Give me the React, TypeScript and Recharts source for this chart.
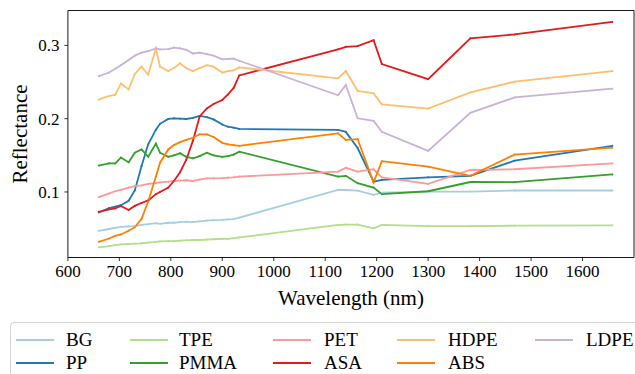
import { Line, LineChart, ReferenceArea, XAxis, YAxis } from "recharts";

const FONT = "'Liberation Serif', 'Times New Roman', serif";

const WAVELENGTHS = [
  660, 680, 692, 703, 718, 730, 743, 756, 771, 779, 795, 806, 818, 830, 843,
  856, 870, 883, 900, 911, 922, 933, 1125, 1140, 1163, 1194, 1210, 1300, 1382,
  1468, 1658,
];

const BG = [
  0.047, 0.0495, 0.051, 0.0525, 0.053, 0.0535, 0.055, 0.056, 0.0575, 0.0565,
  0.058, 0.058, 0.059, 0.0595, 0.059, 0.06, 0.061, 0.0615, 0.062, 0.0625,
  0.063, 0.065, 0.1027, 0.1027, 0.1018, 0.096, 0.099, 0.1004, 0.1005, 0.102,
  0.102,
];
const PP = [
  0.072, 0.078, 0.08, 0.082, 0.088, 0.102, 0.135, 0.165, 0.185, 0.193, 0.1996,
  0.2005, 0.2, 0.1996, 0.201, 0.2037, 0.202, 0.199, 0.192, 0.189, 0.1877,
  0.186, 0.1846, 0.182, 0.16, 0.114, 0.1164, 0.12, 0.122, 0.1427, 0.163,
];
const TPE = [
  0.0245, 0.026, 0.0275, 0.0285, 0.029, 0.0295, 0.03, 0.031, 0.032, 0.0325,
  0.033, 0.033, 0.0335, 0.034, 0.0345, 0.0345, 0.035, 0.0355, 0.036, 0.036,
  0.037, 0.038, 0.055, 0.0555, 0.0555, 0.0505, 0.055, 0.0535, 0.0535, 0.054,
  0.0545,
];
const PMMA = [
  0.136, 0.139, 0.139, 0.147, 0.1405, 0.1536, 0.158, 0.148, 0.166, 0.1536,
  0.148, 0.15, 0.153, 0.148, 0.146, 0.149, 0.1536, 0.15, 0.148, 0.149, 0.151,
  0.155, 0.121, 0.122, 0.112, 0.106, 0.097, 0.101, 0.1136, 0.1135, 0.124,
];
const PET = [
  0.093, 0.098, 0.101, 0.103, 0.106, 0.108, 0.109, 0.111, 0.112, 0.113, 0.114,
  0.115, 0.1155, 0.116, 0.115, 0.117, 0.1185, 0.1185, 0.119, 0.1195, 0.12,
  0.121, 0.1277, 0.133, 0.1277, 0.131, 0.12, 0.111, 0.13, 0.131, 0.139,
];
const ASA = [
  0.073, 0.0764, 0.0775, 0.081, 0.0754, 0.081, 0.085, 0.0885, 0.097, 0.1,
  0.106, 0.115, 0.127, 0.144, 0.17, 0.203, 0.214, 0.22, 0.2255, 0.233, 0.242,
  0.259, 0.2947, 0.298, 0.299, 0.307, 0.2746, 0.254, 0.3097, 0.315, 0.332,
];
const HDPE = [
  0.226, 0.231, 0.2325, 0.248, 0.24, 0.261, 0.271, 0.26, 0.296, 0.271, 0.265,
  0.269, 0.2755, 0.269, 0.265, 0.269, 0.273, 0.271, 0.263, 0.265, 0.266, 0.27,
  0.255, 0.265, 0.238, 0.2345, 0.2196, 0.2137, 0.236, 0.2505, 0.265,
];
const ABS = [
  0.032, 0.0365, 0.04, 0.042, 0.047, 0.052, 0.063, 0.087, 0.121, 0.14, 0.158,
  0.164, 0.168, 0.171, 0.174, 0.1787, 0.1787, 0.175, 0.167, 0.165, 0.164,
  0.163, 0.18, 0.171, 0.172, 0.113, 0.142, 0.1345, 0.122, 0.151, 0.1605,
];
const LDPE = [
  0.258, 0.263, 0.268, 0.273, 0.28, 0.286, 0.29, 0.292, 0.296, 0.2945, 0.295,
  0.297, 0.296, 0.294, 0.289, 0.29, 0.288, 0.286, 0.281, 0.2815, 0.282, 0.279,
  0.232, 0.246, 0.2005, 0.197, 0.182, 0.156, 0.208, 0.229, 0.241,
];

const SERIES = [
  { name: "BG", values: BG, color: "#a6cee3" },
  { name: "PP", values: PP, color: "#1f78b4" },
  { name: "TPE", values: TPE, color: "#b2df8a" },
  { name: "PMMA", values: PMMA, color: "#33a02c" },
  { name: "PET", values: PET, color: "#fb9a99" },
  { name: "ASA", values: ASA, color: "#e31a1c" },
  { name: "HDPE", values: HDPE, color: "#fdbf6f" },
  { name: "ABS", values: ABS, color: "#ff7f00" },
  { name: "LDPE", values: LDPE, color: "#cab2d6" },
];

const X_TICKS = [600, 700, 800, 900, 1000, 1100, 1200, 1300, 1400, 1500, 1600];
const Y_TICKS = [0.1, 0.2, 0.3];
const X_DOMAIN: [number, number] = [600, 1700];
const Y_DOMAIN: [number, number] = [0.0106, 0.3476];
const X_LABEL = "Wavelength (nm)";
const Y_LABEL = "Reflectance";

// legend: 5 columns, filled column by column like matplotlib
const LEGEND_COL_LINE = [5, 119, 262, 386, 524];
const LEGEND_COL_TEXT = [55, 168, 313, 437, 575];
const LEGEND_ROW_Y = [17, 40];

const rows = WAVELENGTHS.map((wl, i) => {
  const row: Record<string, number> = { wl };
  for (const s of SERIES) {
    row[s.name] = s.values[i];
  }
  return row;
});

const ChartLegend = function ChartLegend() {
  return (
    <div
      style={{
        position: "absolute",
        left: 10,
        top: 322,
        width: 640,
        height: 60,
        border: "1px solid #d4d4d4",
        borderRadius: 4,
        background: "#fff",
        fontFamily: FONT,
        fontSize: 19,
        color: "#000",
      }}
    >
      {SERIES.map((s, i) => {
        const col = Math.floor(i / 2);
        const r = i % 2;
        return (
          <div key={s.name}>
            <span
              style={{
                position: "absolute",
                left: LEGEND_COL_LINE[col],
                top: LEGEND_ROW_Y[r] - 1,
                width: 38,
                height: 2,
                background: s.color,
              }}
            />
            <span
              style={{
                position: "absolute",
                left: LEGEND_COL_TEXT[col],
                top: LEGEND_ROW_Y[r] - 11,
                lineHeight: "22px",
                whiteSpace: "nowrap",
              }}
            >
              {s.name}
            </span>
          </div>
        );
      })}
    </div>
  );
};

export default function App() {
  return (
    <div
      style={{
        position: "absolute",
        left: 0,
        top: 0,
        width: 635,
        height: 374,
        overflow: "hidden",
        background: "#fff",
      }}
    >
      <LineChart
        width={635}
        height={320}
        data={rows}
        margin={{ top: 10.5, right: 1, bottom: 0, left: 0 }}
      >
        <XAxis
          dataKey="wl"
          type="number"
          domain={X_DOMAIN}
          ticks={X_TICKS}
          allowDataOverflow
          height={62.5}
          axisLine={false}
          tickLine={{ stroke: "#000", strokeWidth: 0.8 }}
          tickSize={3.5}
          tickMargin={4}
          tick={{ fill: "#000", fontSize: 17, fontFamily: FONT }}
        />
        <YAxis
          type="number"
          domain={Y_DOMAIN}
          ticks={Y_TICKS}
          allowDataOverflow
          width={67.9}
          axisLine={false}
          tickLine={{ stroke: "#000", strokeWidth: 0.8 }}
          tickSize={3.5}
          tickMargin={5}
          tickFormatter={(v: number) => v.toFixed(1)}
          tick={{ fill: "#000", fontSize: 17, fontFamily: FONT }}
        />
        {SERIES.map((s) => (
          <Line
            key={s.name}
            dataKey={s.name}
            type="linear"
            stroke={s.color}
            strokeWidth={1.8}
            dot={{ r: 1, fill: s.color, stroke: "none" }}
            activeDot={false}
            isAnimationActive={false}
          />
        ))}
        <ReferenceArea
          x1={X_DOMAIN[0]}
          x2={X_DOMAIN[1]}
          y1={Y_DOMAIN[0]}
          y2={Y_DOMAIN[1]}
          fill="none"
          stroke="#000"
          strokeWidth={0.9}
          ifOverflow="visible"
        />
      </LineChart>
      <div
        style={{
          position: "absolute",
          left: 68,
          width: 566,
          top: 285,
          textAlign: "center",
          fontFamily: FONT,
          fontSize: 21,
          lineHeight: "26px",
          color: "#000",
        }}
      >
        {X_LABEL}
      </div>
      <div
        style={{
          position: "absolute",
          left: 20,
          top: 134,
          transform: "translate(-50%, -50%) rotate(-90deg)",
          fontFamily: FONT,
          fontSize: 21,
          lineHeight: "26px",
          color: "#000",
          whiteSpace: "nowrap",
        }}
      >
        {Y_LABEL}
      </div>
      <ChartLegend />
    </div>
  );
}
